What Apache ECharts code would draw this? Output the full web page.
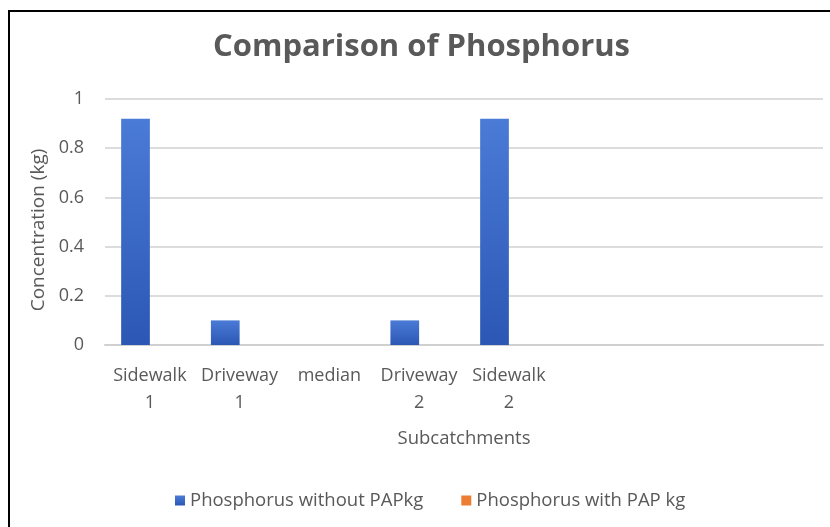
<!DOCTYPE html>
<html>
<head>
<meta charset="utf-8">
<script src="https://cdn.jsdelivr.net/npm/echarts@6/dist/echarts.min.js"></script>
<style>
  html, body { margin: 0; padding: 0; background: #fff; }
  .wrap { position: relative; width: 830px; height: 527px; overflow: hidden; }
  #chart { width: 830px; height: 527px; }
  .frame {
    position: absolute; left: 8px; top: 10px; width: 900px; height: 600px;
    border-left: 2px solid #000; border-top: 2px solid #000;
    pointer-events: none;
  }
</style>
</head>
<body>
<div class="wrap">
  <div id="chart"></div>
  <div class="frame"></div>
</div>
<script>
// subcatchments (last three rows of the sheet are empty)
var categories = ['Sidewalk\n1', 'Driveway\n1', 'median', 'Driveway\n2', 'Sidewalk\n2', '', '', '']
var withoutPAP = [0.92, 0.1, 0, 0.1, 0.92, null, null, null]
var withPAP = [0, 0, 0, 0, 0, null, null, null]
var yTicks = [0, 0.2, 0.4, 0.6, 0.8, 1]

var font = '"Open Sans", Calibri, sans-serif'
var grey = '#595959'

var myChart = echarts.init(document.getElementById('chart'))
myChart.setOption({
  backgroundColor: '#fff',
  animation: false,
  textStyle: { fontFamily: font },
  title: {
    text: 'Comparison of Phosphorus',
    left: 208,
    top: 27,
    textStyle: {
      color: grey,
      fontSize: 31,
      fontWeight: 'bold',
      fontFamily: font
    }
  },
  legend: {
    bottom: 12,
    left: 170,
    itemWidth: 10,
    itemHeight: 10,
    itemGap: 38,
    icon: 'rect',
    textStyle: { color: grey, fontSize: 18.5, fontFamily: font },
    data: ['Phosphorus without PAPkg', 'Phosphorus with PAP kg']
  },
  grid: {
    left: 105,
    right: 7,
    top: 99,
    bottom: 182
  },
  xAxis: {
    type: 'category',
    data: categories,
    name: 'Subcatchments',
    nameLocation: 'middle',
    nameGap: 84,
    nameTextStyle: { color: grey, fontSize: 18.5 },
    axisTick: { show: false },
    axisLine: { lineStyle: { color: '#d0d0d0', width: 2 } },
    axisLabel: {
      interval: 0,
      color: grey,
      fontSize: 18,
      lineHeight: 27,
      margin: 17
    }
  },
  yAxis: {
    type: 'value',
    min: yTicks[0],
    max: yTicks[yTicks.length - 1],
    interval: 0.2,
    name: 'Concentration (kg)',
    nameLocation: 'middle',
    nameGap: 52,
    nameTextStyle: { color: grey, fontSize: 19, padding: [0, 0, 0, -16] },
    axisLine: { show: false },
    axisTick: { show: false },
    splitLine: { lineStyle: { color: '#dcdcdc', width: 2 } },
    axisLabel: { color: grey, fontSize: 18, margin: 21 }
  },
  series: [{
    name: 'Phosphorus without PAPkg',
    type: 'bar',
    data: withoutPAP,
    barGap: '0%',
    barCategoryGap: '36%',
    itemStyle: {
      color: new echarts.graphic.LinearGradient(0, 0, 0, 1, [
        { offset: 0, color: '#4a7bd6' },
        { offset: 1, color: '#2c57b5' }
      ])
    }
  }, {
    name: 'Phosphorus with PAP kg',
    type: 'bar',
    data: withPAP,
    itemStyle: { color: '#ed7d31' }
  }]
})
</script>
</body>
</html>
